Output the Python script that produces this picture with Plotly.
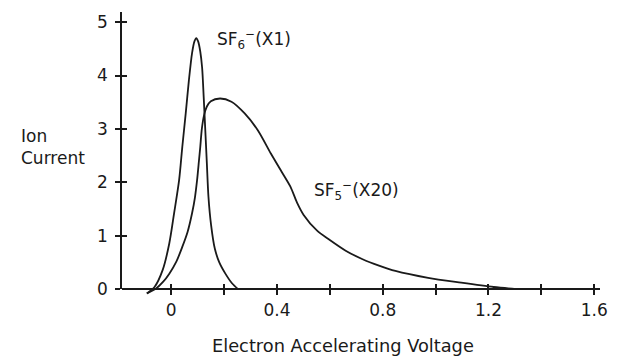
import plotly.graph_objects as go

# SF6- (X1) curve: electron accelerating voltage vs ion current
sf6_x = [-0.092, -0.063, -0.032, -0.007, 0.011, 0.030, 0.042, 0.055, 0.067, 0.079,
         0.088, 0.095, 0.102, 0.110, 0.117, 0.123, 0.129, 0.135, 0.141, 0.151,
         0.165, 0.182, 0.205, 0.230, 0.253]
sf6_y = [-0.08, 0.04, 0.36, 0.86, 1.42, 2.04, 2.66, 3.29, 3.91, 4.42,
         4.64, 4.70, 4.64, 4.45, 4.15, 3.60, 2.98, 2.35, 1.73, 1.20,
         0.76, 0.50, 0.29, 0.11, 0.00]

# SF5- (X20) curve
sf5_x = [-0.092, -0.060, -0.030, -0.007, 0.020, 0.042, 0.062, 0.079, 0.090, 0.098,
         0.105, 0.110, 0.116, 0.124, 0.135, 0.150, 0.185, 0.228, 0.278, 0.327,
         0.377, 0.414, 0.451, 0.476, 0.501, 0.551, 0.600, 0.660, 0.724, 0.786,
         0.848, 0.972, 1.097, 1.220, 1.306]
sf5_y = [-0.08, 0.00, 0.14, 0.29, 0.52, 0.79, 1.07, 1.42, 1.72, 2.04,
         2.40, 2.66, 3.00, 3.25, 3.42, 3.52, 3.57, 3.51, 3.29, 2.98,
         2.54, 2.23, 1.92, 1.62, 1.39, 1.10, 0.92, 0.72, 0.56, 0.44,
         0.34, 0.21, 0.12, 0.04, 0.00]

x_range = [-0.186, 1.622]
y_range = [-0.11, 5.19]
x_major = 0.4
x_minor = 0.2
y_major = 1

FONT = "DejaVu Sans, Verdana, sans-serif"
INK = "#1a1a1a"
CLEAR = "rgba(0,0,0,0)"
p0 = (0 - y_range[0]) / (y_range[1] - y_range[0])

fig = go.Figure()
line = dict(color=INK, width=1.8, shape="spline", smoothing=0.8)
fig.add_trace(go.Scatter(x=sf6_x, y=sf6_y, mode="lines", line=line, showlegend=False, hoverinfo="skip"))
fig.add_trace(go.Scatter(x=sf5_x, y=sf5_y, mode="lines", line=line, showlegend=False, hoverinfo="skip"))
# dummy traces to create the axis overlays (crossing tick marks)
fig.add_trace(go.Scatter(x=[], y=[], xaxis="x2", yaxis="y", showlegend=False))
fig.add_trace(go.Scatter(x=[], y=[], xaxis="x", yaxis="y2", showlegend=False))
fig.add_trace(go.Scatter(x=[], y=[], xaxis="x", yaxis="y3", showlegend=False))

tickfont = dict(family=FONT, size=17, color=INK)
fig.update_layout(
    width=618, height=361,
    margin=dict(l=122, r=10, t=12, b=66),
    paper_bgcolor="white", plot_bgcolor=CLEAR,
    font=dict(family=FONT, color=INK),
    xaxis=dict(range=x_range, anchor="free", position=p0, showline=True, linecolor=INK, linewidth=1.6,
               showgrid=False, zeroline=False, tickmode="linear", tick0=0, dtick=x_major,
               ticks="outside", ticklen=5, tickwidth=1.5, tickcolor=INK, tickfont=tickfont,
               ticklabelstandoff=1,
               minor=dict(tickmode="linear", tick0=0, dtick=x_minor, ticks="outside", ticklen=5,
                          tickwidth=1.5, tickcolor=INK, showgrid=False)),
    xaxis2=dict(range=x_range, overlaying="x", matches="x", anchor="free", position=p0, showline=False,
                showgrid=False, zeroline=False, showticklabels=False, tickmode="linear", tick0=0,
                dtick=x_major, ticks="inside", ticklen=5, tickwidth=1.5, tickcolor=INK,
                minor=dict(tickmode="linear", tick0=0, dtick=x_minor, ticks="inside", ticklen=5,
                           tickwidth=1.5, tickcolor=INK, showgrid=False)),
    yaxis=dict(range=y_range, domain=[0, 1], visible=False),
    yaxis2=dict(range=[0, y_range[1]], domain=[p0, 1], anchor="x", showline=True, linecolor=INK,
                linewidth=1.6, showgrid=False, zeroline=False, tickmode="linear", tick0=0, dtick=y_major,
                ticks="outside", ticklen=5, tickwidth=1.5, tickcolor=INK, tickfont=tickfont,
                ticklabelstandoff=4),
    yaxis3=dict(range=[0, y_range[1]], overlaying="y2", matches="y2", anchor="x", showline=False,
                showgrid=False, zeroline=False, showticklabels=False, tickmode="linear", tick0=0,
                dtick=y_major, ticks="inside", ticklen=5, tickwidth=1.5, tickcolor=INK),
)

ann_font = dict(family=FONT, size=17, color=INK)
fig.add_annotation(text="Ion<br>Current", xref="paper", yref="paper", x=-0.216, y=0.523,
                   xanchor="left", yanchor="middle", align="left", showarrow=False, font=ann_font)
fig.add_annotation(text="Electron Accelerating Voltage", xref="paper", yref="paper", x=0.463, y=-0.177,
                   xanchor="center", yanchor="middle", showarrow=False,
                   font=dict(family=FONT, size=17.8, color=INK))
fig.add_annotation(text="SF<sub>6</sub><sup>\u2212</sup>(X1)", xref="x", yref="y", x=0.164, y=4.68,
                   xanchor="left", yanchor="middle", showarrow=False, font=ann_font)
fig.add_annotation(text="SF<sub>5</sub><sup>\u2212</sup>(X20)", xref="x", yref="y", x=0.532, y=1.85,
                   xanchor="left", yanchor="middle", showarrow=False, font=ann_font)

fig.write_html("out.html")
